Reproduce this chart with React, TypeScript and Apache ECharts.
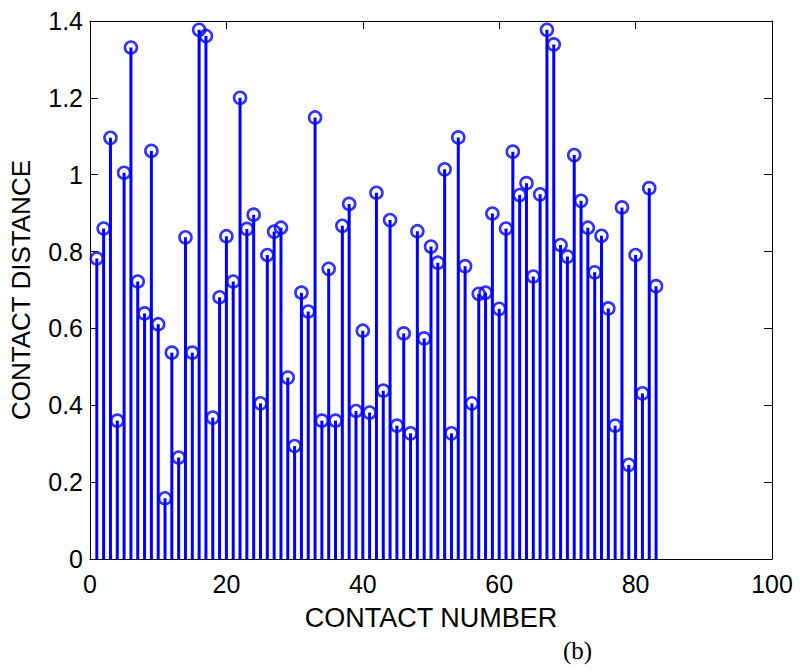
import React, { useEffect, useRef } from "react";
import * as echarts from "echarts";

const contactNumbers: number[] = [
  1, 2, 3, 4, 5, 6, 7, 8, 9, 10, 11, 12, 13, 14, 15, 16, 17, 18, 19, 20,
  21, 22, 23, 24, 25, 26, 27, 28, 29, 30, 31, 32, 33, 34, 35, 36, 37, 38, 39, 40,
  41, 42, 43, 44, 45, 46, 47, 48, 49, 50, 51, 52, 53, 54, 55, 56, 57, 58, 59, 60,
  61, 62, 63, 64, 65, 66, 67, 68, 69, 70, 71, 72, 73, 74, 75, 76, 77, 78, 79, 80,
  81, 82, 83,
];

const contactDistances: number[] = [
  0.782, 0.86, 1.096, 0.36, 1.005, 1.331, 0.722, 0.639, 1.062, 0.611,
  0.158, 0.537, 0.264, 0.837, 0.537, 1.377, 1.361, 0.368, 0.681, 0.84,
  0.722, 1.2, 0.859, 0.896, 0.405, 0.791, 0.852, 0.862, 0.472, 0.294,
  0.693, 0.644, 1.149, 0.36, 0.755, 0.36, 0.867, 0.924, 0.385, 0.594,
  0.381, 0.953, 0.438, 0.882, 0.347, 0.587, 0.327, 0.853, 0.574, 0.813,
  0.771, 1.014, 0.327, 1.097, 0.762, 0.405, 0.69, 0.693, 0.899, 0.651,
  0.86, 1.06, 0.947, 0.978, 0.735, 0.949, 1.377, 1.339, 0.817, 0.787,
  1.051, 0.932, 0.862, 0.746, 0.841, 0.652, 0.347, 0.915, 0.245, 0.791,
  0.431, 0.965, 0.71,
];

const xAxisTitle = "CONTACT NUMBER";
const yAxisTitle = "CONTACT DISTANCE";
const panelLabel = "(b)";

const BLUE = "#0000ff";
const FONT = "Liberation Sans, Arial, sans-serif";

export default function App() {
  const ref = useRef<HTMLDivElement>(null);

  useEffect(() => {
    document.body.style.margin = "0";
    if (!ref.current) return;
    const chart = echarts.init(ref.current, undefined, { renderer: "svg" });
    const points = contactNumbers.map((n, i) => [n, contactDistances[i]]);

    const axisLine = { show: true, onZero: false, lineStyle: { color: "#000", width: 1 } };
    const axisTick = { show: true, inside: true, length: 8, lineStyle: { color: "#000", width: 1 } };

    chart.setOption({
      animation: false,
      backgroundColor: "#fff",
      grid: { left: 89, right: 28, top: 21, bottom: 113, containLabel: false },
      xAxis: [
        {
          type: "value",
          min: 0,
          max: 100,
          interval: 20,
          position: "bottom",
          axisLine,
          axisTick,
          splitLine: { show: false },
          axisLabel: { color: "#000", fontFamily: FONT, fontSize: 25, margin: 12 },
          name: xAxisTitle,
          nameLocation: "middle",
          nameGap: 45,
          nameTextStyle: { color: "#000", fontFamily: FONT, fontSize: 27 },
        },
        {
          type: "value",
          min: 0,
          max: 100,
          interval: 20,
          position: "top",
          axisLine,
          axisTick,
          splitLine: { show: false },
          axisLabel: { show: false },
        },
      ],
      yAxis: [
        {
          type: "value",
          min: 0,
          max: 1.4,
          interval: 0.2,
          position: "left",
          axisLine,
          axisTick,
          splitLine: { show: false },
          axisLabel: { color: "#000", fontFamily: FONT, fontSize: 25, margin: 7 },
          name: yAxisTitle,
          nameLocation: "middle",
          nameGap: 56,
          nameTextStyle: { color: "#000", fontFamily: FONT, fontSize: 26 },
        },
        {
          type: "value",
          min: 0,
          max: 1.4,
          interval: 0.2,
          position: "right",
          axisLine,
          axisTick,
          splitLine: { show: false },
          axisLabel: { show: false },
        },
      ],
      series: [
        {
          type: "bar",
          xAxisIndex: 0,
          yAxisIndex: 0,
          data: points,
          barWidth: 3,
          itemStyle: { color: BLUE },
          silent: true,
        },
        {
          type: "scatter",
          xAxisIndex: 0,
          yAxisIndex: 0,
          data: points,
          symbol: "circle",
          symbolSize: 12,
          itemStyle: { color: "rgba(0,0,0,0)", borderColor: BLUE, borderWidth: 2.6 },
          silent: true,
        },
      ],
      graphic: [
        {
          type: "text",
          left: 563,
          top: 638,
          style: {
            text: panelLabel,
            fill: "#000",
            font: "25px 'Liberation Serif', 'Times New Roman', serif",
          },
        },
      ],
    });

    return () => chart.dispose();
  }, []);

  return <div ref={ref} style={{ width: 800, height: 672 }} />;
}
